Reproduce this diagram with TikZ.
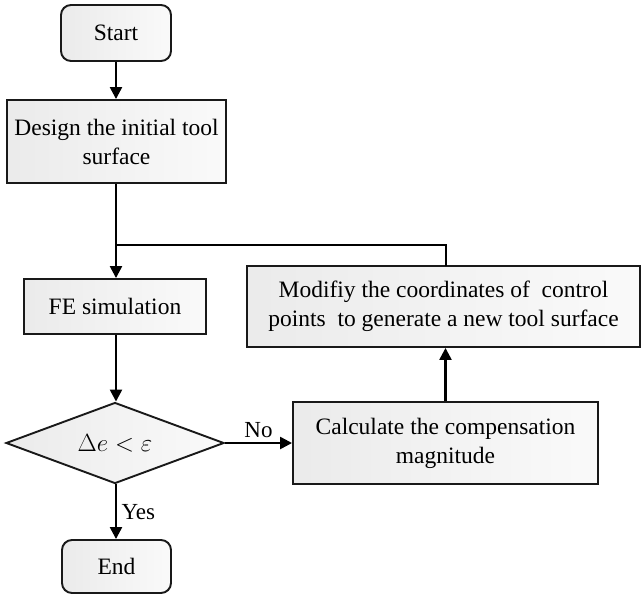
\documentclass[tikz,border=0pt]{standalone}
\usepackage{fontspec}
\setmainfont{Liberation Serif}
\usetikzlibrary{shapes.geometric,arrows.meta}
\begin{document}
\begin{tikzpicture}[x=1pt,y=-1pt,
  every node/.style={font=\fontsize{23.5}{29}\selectfont},
  boxbase/.style={draw=black!90,line width=1.9pt,left color=gray!16,right color=gray!4,inner sep=0pt},
  procbox/.style={boxbase,rectangle,align=center},
  termbox/.style={boxbase,rectangle,rounded corners=10pt},
  decbox/.style={boxbase,diamond,minimum width=218pt,minimum height=81pt,aspect=2.7},
  conn/.style={line width=2.4pt,draw=black},
  arr/.style={conn,-{Triangle[length=12pt,width=12pt]}},
  lab/.style={font=\fontsize{23}{27}\selectfont}]
\useasboundingbox (0,0) rectangle (641,598);
\node[termbox,minimum width=110pt,minimum height=56pt] (start) at (116,33) {Start};
\node[procbox,minimum width=219pt,minimum height=83pt] (design) at (116.5,141.5) {Design the initial tool\\surface};
\node[procbox,minimum width=182pt,minimum height=55pt] (fe) at (115,306.5) {FE simulation};
\node[procbox,minimum width=393pt,minimum height=81pt] (modify) at (443.5,306.5) {Modifiy the coordinates of\ \ control\\points\ \ to generate a new tool surface};
\node[decbox] (dec) at (115,443) {\fontsize{23}{27}\selectfont$\Delta e < \varepsilon$};
\node[procbox,minimum width=305pt,minimum height=82pt] (calc) at (445.5,443) {Calculate the compensation\\magnitude};
\node[termbox,minimum width=109pt,minimum height=53pt] (end) at (116.5,566.5) {End};
\coordinate (j) at (116,245);
\coordinate (mtop) at (446,266);
\draw[arr] (start.south) -- (design.north -| start.south);
\draw[arr] (design.south -| j) -- (fe.north -| j);
\draw[conn] (mtop) |- (j);
\draw[arr] (fe.south -| j) -- (dec.north -| j);
\draw[arr] (dec.east) -- node[lab,above,yshift=1pt] {No} (calc.west);
\draw[arr] (calc.north) -- (modify.south -| calc.north);
\draw[arr] (dec.south -| j) -- node[lab,right,xshift=1pt] {Yes} (end.north -| j);
\end{tikzpicture}
\end{document}
